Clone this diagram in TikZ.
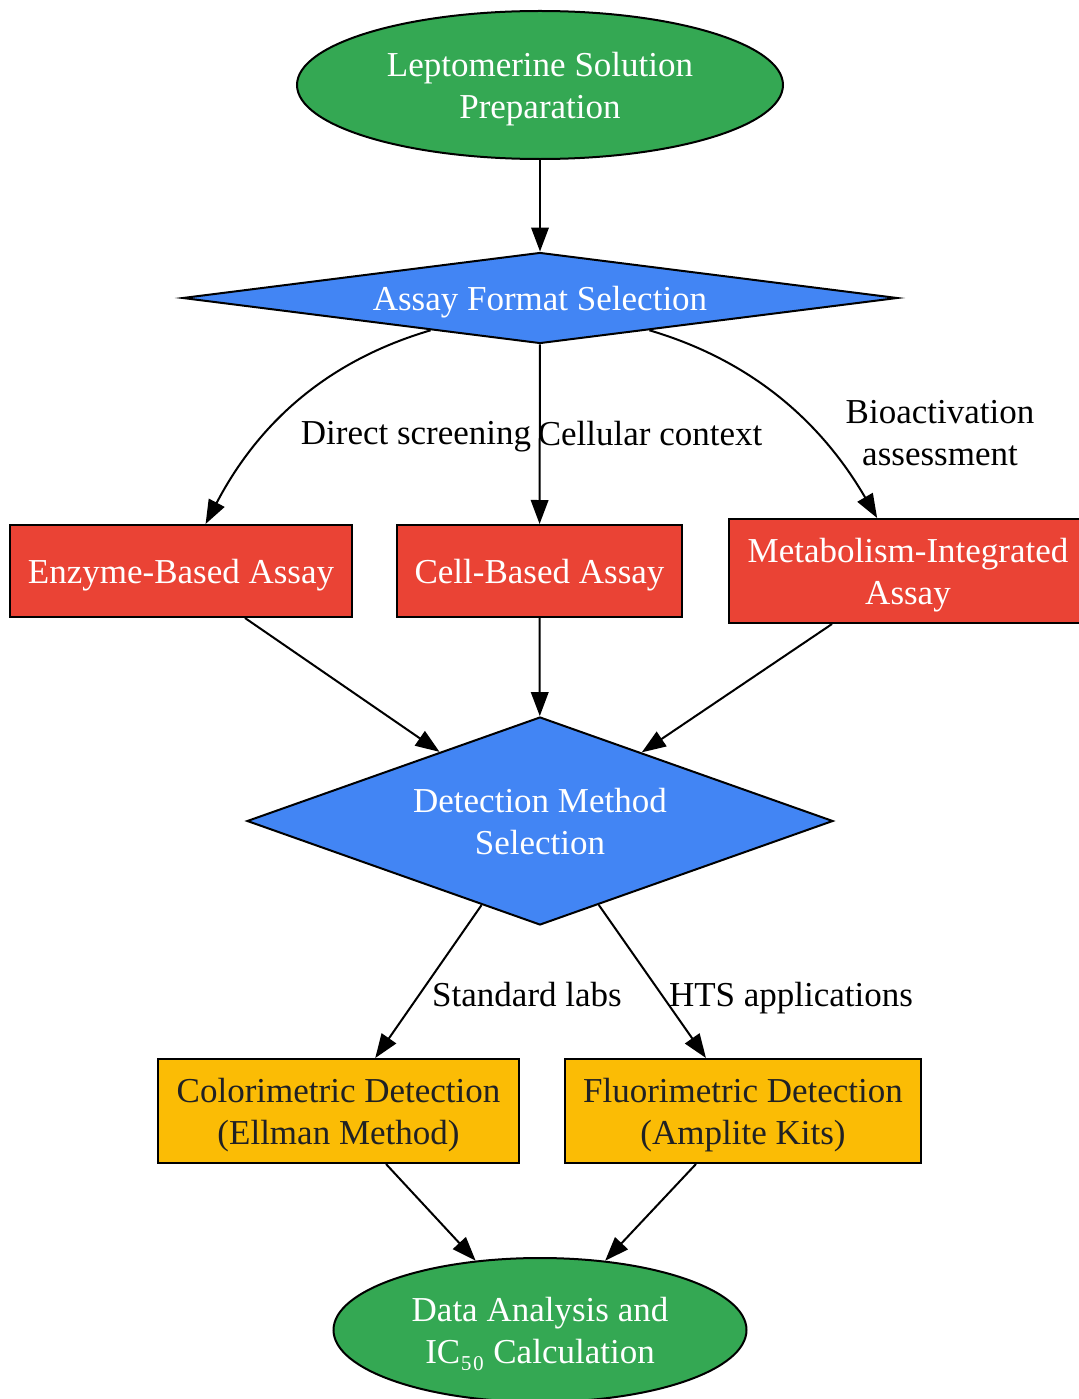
\documentclass[tikz,border=0pt]{standalone}
\usepackage{fontspec}
\setmainfont{Liberation Serif}
\usepackage{xcolor}
\usepackage{tikz}
\usetikzlibrary{shapes.geometric,arrows.meta}
\definecolor{stepgreen}{RGB}{52, 168, 83}
\definecolor{choiceblue}{RGB}{66, 133, 244}
\definecolor{assayred}{RGB}{234, 67, 53}
\definecolor{detectyellow}{RGB}{251, 188, 5}
\definecolor{darktext}{RGB}{32, 33, 36}
\tikzset{
    base/.style={draw=black, line width=0.8pt, inner sep=0pt, text depth=0pt, align=center, font=\fontsize{14pt}{16.8pt}\selectfont},
    terminal/.style={base, ellipse, fill=stepgreen, text=white},
    choice/.style={base, diamond, fill=choiceblue, text=white},
    assaybox/.style={base, rectangle, fill=assayred, text=white},
    detectbox/.style={base, rectangle, fill=detectyellow, text=darktext},
    edgelabel/.style={inner sep=0pt, text depth=0pt, align=center, font=\fontsize{14pt}{16.8pt}\selectfont},
    flow/.style={line width=0.8pt, -{Triangle[length=9.6pt, width=7pt]}}
}

\begin{document}
\begin{tikzpicture}[x=0.4pt, y=-0.4pt]
    \useasboundingbox (0,0) rectangle (1079,1399);

    % nodes
    \node[terminal, minimum width=194.4pt, minimum height=59.2pt] (prep) at (540,85) {Leptomerine Solution\\Preparation};
    \node[choice, aspect=7.9, minimum width=286pt, minimum height=36.4pt] (format) at (540,298) {Assay Format Selection};
    \node[assaybox, minimum width=136.8pt, minimum height=36.8pt] (enzyme) at (181,571) {Enzyme-Based Assay};
    \node[assaybox, minimum width=114pt, minimum height=36.8pt] (cell) at (539.5,571) {Cell-Based Assay};
    \node[assaybox, minimum width=143.2pt, minimum height=41.6pt] (metab) at (908,571) {Metabolism-Integrated\\Assay};
    \node[choice, aspect=2.8, minimum width=234.4pt, minimum height=83.2pt] (detect) at (540,821) {Detection Method\\Selection};
    \node[detectbox, minimum width=144.4pt, minimum height=41.6pt] (color) at (338.5,1111) {Colorimetric Detection\\(Ellman Method)};
    \node[detectbox, minimum width=142.4pt, minimum height=41.6pt] (fluor) at (743,1111) {Fluorimetric Detection\\(Amplite Kits)};
    \node[terminal, minimum width=165.2pt, minimum height=57.6pt] (data) at (540,1330) {Data Analysis and\\IC₅₀ Calculation};

    % labels
    \node[edgelabel] (lbldirect) at (416,433) {Direct screening};
    \node[edgelabel] (lblcell) at (650,433) {Cellular context};
    \node[edgelabel] (lblbio) at (940,433) {Bioactivation\\assessment};
    \node[edgelabel] (lblstd) at (527,994) {Standard labs};
    \node[edgelabel] (lblhts) at (791,994) {HTS applications};

    % connectors
    \draw[flow] (prep) -- (format);
    \draw[flow] (format) .. controls (330,360) and (260,420) .. (enzyme);
    \draw[flow] (format) -- (cell);
    \draw[flow] (format) .. controls (750,360) and (820,420) .. (metab);
    \draw[flow] (enzyme.south -| 245,0) -- (detect);
    \draw[flow] (cell) -- (detect);
    \draw[flow] (metab.south -| 832,0) -- (detect);
    \draw[flow] (detect) -- (color);
    \draw[flow] (detect) -- (fluor);
    \draw[flow] (color.south -| 386,0) -- (data);
    \draw[flow] (fluor.south -| 696,0) -- (data);
\end{tikzpicture}
\end{document}
